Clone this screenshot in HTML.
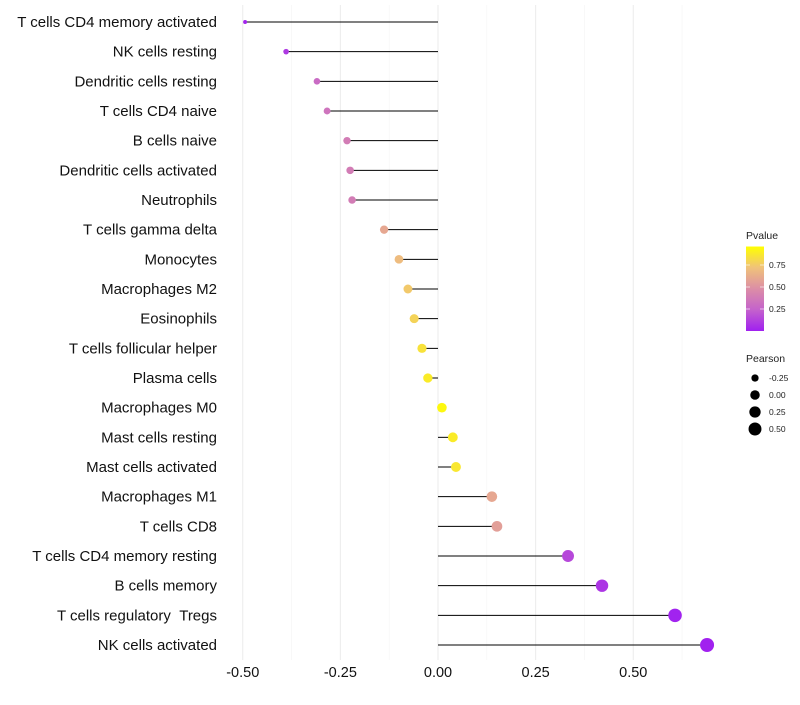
<!DOCTYPE html>
<html><head><meta charset="utf-8"><style>
body{margin:0;background:#fff;font-family:"Liberation Sans",sans-serif}
</style></head><body>
<svg id="c" width="800" height="700" xmlns="http://www.w3.org/2000/svg">
<defs><linearGradient id="g" x1="0" y1="1" x2="0" y2="0">
<stop offset="0" stop-color="#a020f0"/><stop offset="0.25" stop-color="#c462cc"/><stop offset="0.5" stop-color="#dc8ea6"/><stop offset="0.75" stop-color="#f0c27a"/><stop offset="1" stop-color="#ffff00"/></linearGradient></defs>
</svg>
<script>
const categories=["T cells CD4 memory activated","NK cells resting","Dendritic cells resting","T cells CD4 naive","B cells naive","Dendritic cells activated","Neutrophils","T cells gamma delta","Monocytes","Macrophages M2","Eosinophils","T cells follicular helper","Plasma cells","Macrophages M0","Mast cells resting","Mast cells activated","Macrophages M1","T cells CD8","T cells CD4 memory resting","B cells memory","T cells regulatory\u00a0\u00a0Tregs","NK cells activated"];
const pearson=[-0.494,-0.389,-0.31,-0.284,-0.233,-0.225,-0.22,-0.138,-0.10,-0.077,-0.061,-0.041,-0.026,0.010,0.038,0.046,0.138,0.151,0.333,0.42,0.607,0.689];
const pvalue=[0.02,0.1,0.3,0.35,0.4,0.4,0.4,0.62,0.72,0.78,0.82,0.88,0.92,0.97,0.92,0.9,0.62,0.58,0.15,0.08,0.01,0.005];
const xTicks=[-0.5,-0.25,0,0.25,0.5];
const xTickLabels=["-0.50","-0.25","0.00","0.25","0.50"];
const legendSizes=[-0.25,0,0.25,0.5];
const legendSizeLabels=["-0.25","0.00","0.25","0.50"];
const pTicks=[0.25,0.5,0.75];

const svg=document.getElementById('c');const NS="http://www.w3.org/2000/svg";
const X=v=>438+v*390.5;
const Y=i=>22+i*(623/21);
const R=p=>Math.sqrt(Math.max(1,22.7+38.1*p));
const stops=[[0,[160,32,240]],[0.25,[196,98,204]],[0.5,[220,142,166]],[0.75,[240,194,122]],[1,[255,255,0]]];
function col(p){for(let k=1;k<stops.length;k++){if(p<=stops[k][0]){const a=stops[k-1],b=stops[k];const t=(p-a[0])/(b[0]-a[0]);return 'rgb('+a[1].map((c,j)=>Math.round(c+(b[1][j]-c)*t)).join(',')+')';}}return 'rgb(255,255,0)';}
function el(t,a,txt){const e=document.createElementNS(NS,t);for(const k in a)e.setAttribute(k,a[k]);if(txt!==undefined)e.textContent=txt;svg.appendChild(e);return e;}
for(let v=-0.5;v<=0.625;v+=0.125){const major=Math.abs(v*4-Math.round(v*4))<1e-6;
const g=el('line',{x1:X(v),x2:X(v),y1:5,y2:660,stroke:major?'#ebebeb':'#f4f4f4','stroke-width':major?1:0.6});

}
xTicks.forEach((v,i)=>{const t=el('text',{x:X(v),y:677,'text-anchor':'middle','font-size':14.5,fill:'#111'},xTickLabels[i]);

});
categories.forEach((c,i)=>{
const t=el('text',{x:217,y:Y(i)+5,'text-anchor':'end','font-size':15,fill:'#111'},c);


const l=el('line',{x1:X(0),x2:X(pearson[i]),y1:Y(i),y2:Y(i),stroke:'#000','stroke-width':1});


const d=el('circle',{cx:X(pearson[i]),cy:Y(i),r:R(pearson[i]),fill:col(pvalue[i])});


});
let t=el('text',{x:746,y:239,'font-size':10.5,fill:'#222'},'Pvalue');


const PY=p=>331-p*88;
const bar=el('rect',{x:746,y:PY(0.96),width:18,height:PY(0)-PY(0.96),fill:'url(#g)'});


pTicks.forEach(p=>{el('line',{x1:746,x2:750,y1:PY(p),y2:PY(p),stroke:'#fff','stroke-opacity':0.6});el('line',{x1:760,x2:764,y1:PY(p),y2:PY(p),stroke:'#fff','stroke-opacity':0.6});
const tt=el('text',{x:769,y:PY(p)+3,'font-size':8.5,fill:'#222'},p.toFixed(2));

});
t=el('text',{x:746,y:362,'font-size':10.5,fill:'#222'},'Pearson');


legendSizes.forEach((s,i)=>{const y=378+i*17;
const c=el('circle',{cx:755,cy:y,r:R(s),fill:'#000'});


const tt=el('text',{x:769,y:y+3,'font-size':8.5,fill:'#222'},legendSizeLabels[i]);

});
</script>
</body></html>
